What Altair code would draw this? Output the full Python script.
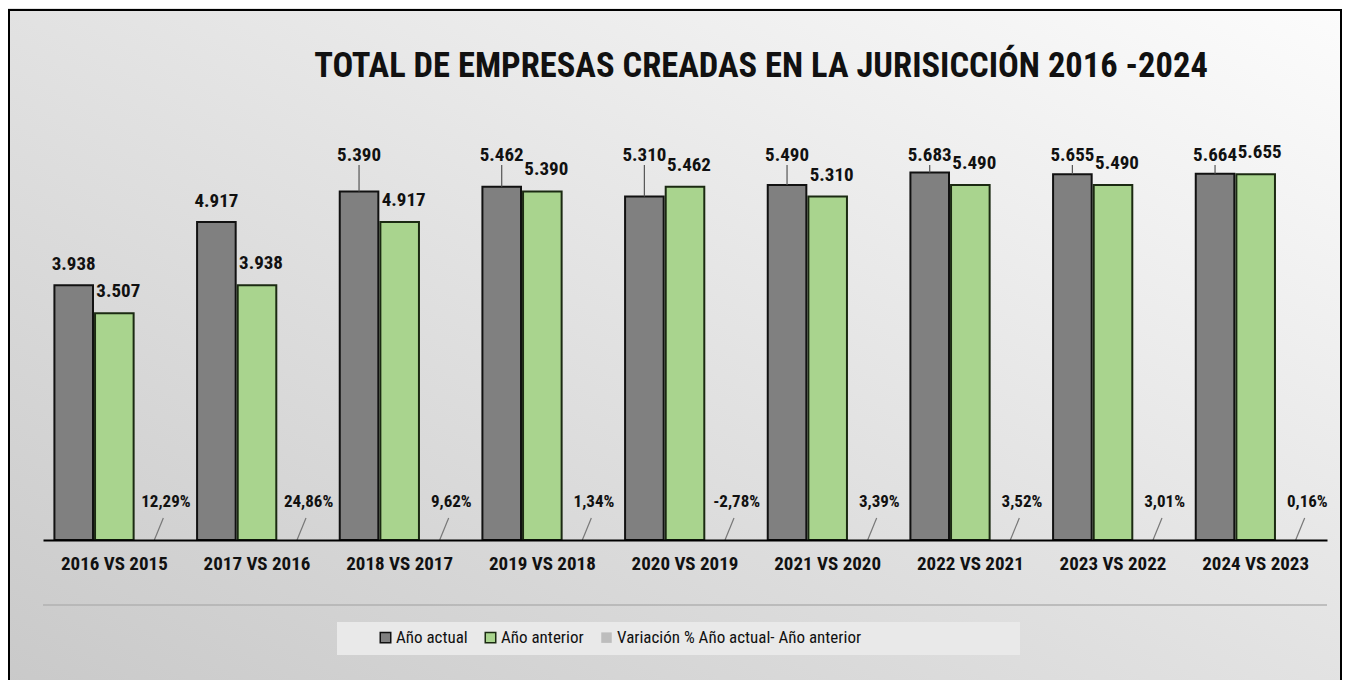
import altair as alt
import pandas as pd

categories = ["2016 VS 2015", "2017 VS 2016", "2018 VS 2017", "2019 VS 2018", "2020 VS 2019",
              "2021 VS 2020", "2022 VS 2021", "2023 VS 2022", "2024 VS 2023"]
anio_actual = [3938, 4917, 5390, 5462, 5310, 5490, 5683, 5655, 5664]
anio_anterior = [3507, 3938, 4917, 5390, 5462, 5310, 5490, 5490, 5655]
variacion_pct = [12.29, 24.86, 9.62, 1.34, -2.78, 3.39, 3.52, 3.01, 0.16]

series = ["Año actual", "Año anterior", "Variación % Año actual- Año anterior"]
title_text = "TOTAL DE EMPRESAS CREADAS EN LA JURISICCIÓN 2016 -2024"

rows = []
for c, a, p, v in zip(categories, anio_actual, anio_anterior, variacion_pct):
    rows.append({"cat": c, "series": series[0], "value": a, "label": f"{a:,}".replace(",", ".")})
    rows.append({"cat": c, "series": series[1], "value": p, "label": f"{p:,}".replace(",", ".")})
    rows.append({"cat": c, "series": series[2], "value": v / 100.0,
                 "label": f"{v:.2f}%".replace(".", ",")})
df = pd.DataFrame(rows)

FONT = "Liberation Sans Narrow, Arial Narrow, Roboto Condensed, Liberation Sans, sans-serif"
W, H = 1284, 388

xenc = alt.X("cat:N", sort=categories, title=None,
             scale=alt.Scale(paddingInner=0.16, paddingOuter=0.08),
             axis=alt.Axis(labelAngle=0, labelFont=FONT, labelFontSize=19, labelFontWeight="bold",
                           labelColor="#111111", labelPadding=14, ticks=False,
                           domainColor="#000000", domainWidth=2, zindex=1))
xoff = alt.XOffset("series:N", sort=series, scale=alt.Scale(domain=series, paddingInner=0.05))
yenc = alt.Y("value:Q", title=None, scale=alt.Scale(domain=[0, 6000], nice=False),
             axis=alt.Axis(values=[0, 1000, 2000, 3000, 4000, 5000, 6000], labels=False, ticks=False,
                           domain=False, grid=True, gridColor="#c4c4c4", gridWidth=1.5))

base = alt.Chart(df)
one = alt.Chart(pd.DataFrame({"k": [0]}))

bg = one.mark_rect(
    fill=alt.Gradient(gradient="linear",
                      stops=[alt.GradientStop(color="#c9c9c9", offset=0),
                             alt.GradientStop(color="#e2e2e2", offset=0.5),
                             alt.GradientStop(color="#fcfcfc", offset=1)],
                      x1=0, y1=1, x2=1, y2=0)
).encode(x=alt.value(-35), x2=alt.value(1299), y=alt.value(-144), y2=alt.value(540))

frame = one.mark_rect(fill="transparent", stroke="#000000", strokeWidth=2).encode(
    x=alt.value(-34), x2=alt.value(1298), y=alt.value(-142), y2=alt.value(560))

title = one.mark_text(text=title_text, font=FONT, fontSize=34.5, fontWeight="bold",
                      color="#111111", align="center", baseline="middle").encode(
    x=alt.value(718), y=alt.value(-85))

sep = one.mark_rule(color="#b0b0b0", strokeWidth=1.5).encode(
    x=alt.value(0), x2=alt.value(W), y=alt.value(453))

legbox = one.mark_rect(fill="#e9e9e9").encode(
    x=alt.value(294), x2=alt.value(977), y=alt.value(470), y2=alt.value(503))

bars = base.mark_bar(strokeWidth=2).encode(
    x=xenc, xOffset=xoff, y=yenc,
    color=alt.Color("series:N", sort=series,
                    scale=alt.Scale(domain=series, range=["#808080", "#a9d48e", "#bdbdbd"]),
                    legend=alt.Legend(title=None, orient="none", legendX=334, legendY=477,
                                      direction="horizontal", labelFont=FONT, labelFontSize=17,
                                      labelColor="#111111", labelLimit=500, symbolType="square",
                                      symbolSize=110, symbolStrokeWidth=1.5, columnPadding=14,
                                      labelOffset=2)),
    stroke=alt.Stroke("series:N", sort=series,
                      scale=alt.Scale(domain=series, range=["#111111", "#1b2a12", "transparent"])),
)

gray_lab = base.transform_filter(alt.datum.series == series[0]).transform_calculate(
    ly="datum.value > 5000 ? 5950 : datum.value + 330"
).mark_text(font=FONT, fontSize=19, fontWeight="bold", color="#111111", baseline="middle").encode(
    x=alt.X("cat:N", sort=categories), xOffset=xoff, y=alt.Y("ly:Q"), text="label:N")

gray_lead = base.transform_filter((alt.datum.series == series[0]) & (alt.datum.value > 5000)).mark_rule(
    color="#555555", strokeWidth=1.2).encode(
    x=alt.X("cat:N", sort=categories), xOffset=xoff, y=alt.Y("value:Q"), y2=alt.datum(5800))

green_lab = base.transform_filter(alt.datum.series == series[1]).transform_calculate(
    ly="datum.value + 340"
).mark_text(font=FONT, fontSize=19, fontWeight="bold", color="#111111", baseline="middle", dx=4).encode(
    x=alt.X("cat:N", sort=categories), xOffset=xoff, y=alt.Y("ly:Q"), text="label:N")

pct_lab = base.transform_filter(alt.datum.series == series[2]).mark_text(
    font=FONT, fontSize=17, fontWeight="bold", color="#111111", baseline="middle", dx=11).encode(
    x=alt.X("cat:N", sort=categories), xOffset=xoff, y=alt.datum(590), text="label:N")

pct_lead = base.transform_filter(alt.datum.series == series[2]).mark_rule(
    color="#777777", strokeWidth=1.2, xOffset=40, x2Offset=49).encode(
    x=alt.X("cat:N", sort=categories, bandPosition=0.5),
    x2=alt.X2("cat", bandPosition=0.5),
    y=alt.datum(0), y2=alt.datum(340))

chart = alt.layer(
    bg, frame, title, sep, legbox, bars, gray_lead, gray_lab, green_lab, pct_lead, pct_lab
).properties(
    width=W, height=H,
    autosize=alt.AutoSizeParams(type="none"),
    padding={"left": 35, "top": 144, "right": 15, "bottom": 140},
).configure_view(stroke="transparent")

chart.save("out.html", embed_options={"renderer": "svg", "actions": False})
